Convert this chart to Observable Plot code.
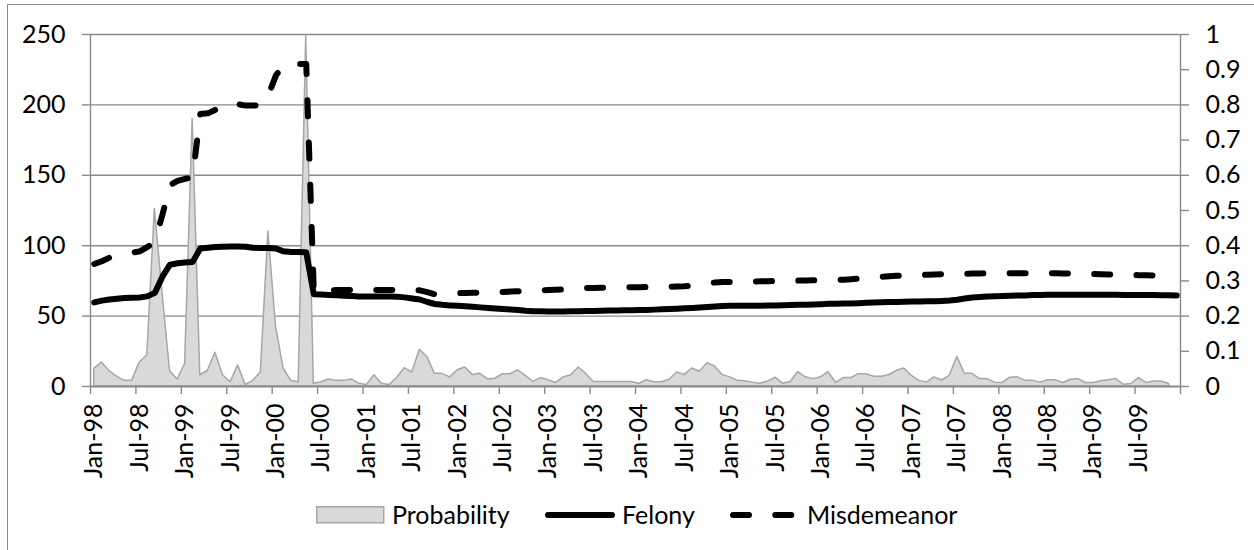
<!DOCTYPE html>
<html>
<head>
<meta charset="utf-8">
<script src="https://cdn.jsdelivr.net/npm/d3@7"></script>
<script src="https://cdn.jsdelivr.net/npm/@observablehq/plot@0.6"></script>
<style>
  html, body { margin: 0; padding: 0; background: #fff; overflow: hidden; }
  #wrap { position: relative; width: 1254px; height: 550px; font-family: Lato, "Open Sans", sans-serif; }
  #frame { position: absolute; left: 7px; top: 4px; width: 3000px; height: 3000px;
           border-top: 1.5px solid #8a8a8a; border-left: 1.5px solid #8a8a8a; box-sizing: border-box; }
  #chart { position: absolute; left: 0; top: 0; }
  .leg { position: absolute; font-size: 25px; line-height: 1; color: #000; white-space: nowrap; }
  .leg svg { position: absolute; }
</style>
</head>
<body>
<div id="wrap">
  <div id="frame"></div>
  <div id="chart"></div>
  <div id="legend"></div>
</div>
<script>
// ---- data (monthly, Jan-98 .. Dec-09) ----
const tickLabels = ["Jan-98","Jul-98","Jan-99","Jul-99","Jan-00","Jul-00","Jan-01","Jul-01",
  "Jan-02","Jul-02","Jan-03","Jul-03","Jan-04","Jul-04","Jan-05","Jul-05","Jan-06","Jul-06",
  "Jan-07","Jul-07","Jan-08","Jul-08","Jan-09","Jul-09"];

const felony = [
  59.7,61,61.8,62.3,62.8,63,63.2,64,66.5,78,86.5,87.5,88,88.5,98,98.6,99,99.3,99.5,99.5,
  99.3,98.5,98.3,98.3,98,96,95.5,95.5,95.3,65.5,65.3,65,64.8,64.5,64.3,64,64,64,64,64,
  63.8,63.3,62.5,61.8,60,58.6,58,57.6,57.3,57,56.7,56.2,55.8,55.4,55,54.7,54.3,53.8,53.5,53.4,
  53.3,53.3,53.3,53.4,53.5,53.6,53.7,53.8,54,54,54.1,54.2,54.3,54.4,54.6,54.8,55,55.3,55.6,55.8,
  56.1,56.4,56.8,57.1,57.3,57.4,57.4,57.4,57.4,57.5,57.6,57.7,57.9,58,58.1,58.3,58.5,58.7,58.8,58.9,
  59,59.2,59.4,59.6,59.8,60,60.1,60.2,60.3,60.4,60.5,60.6,60.8,61.1,61.6,62.5,63.2,63.6,63.9,64.1,
  64.3,64.4,64.6,64.7,64.9,65,65.1,65.2,65.2,65.2,65.2,65.2,65.2,65.2,65.1,65.1,65,65,65,64.9,
  64.9,64.8,64.8,64.7];

const misdemeanor = [
  87,89,91.5,93,94.5,95,96,99,103,122,143,146,147.5,148.5,193.5,194,196.5,199,201.5,200.5,
  199.5,199.5,199.5,207,221,228,229,229,229,67.5,68,68.3,68.5,68.5,68.5,68.5,68.5,68.5,68.5,68.5,
  68.6,68.6,68.6,68.3,67,65.5,65.5,66,66.3,66.4,66.5,66.6,66.8,67,67.2,67.4,67.6,67.8,68,68.3,
  68.5,68.7,69,69.3,69.6,69.9,70,70.1,70.2,70.3,70.4,70.5,70.5,70.6,70.7,70.8,70.9,71,71.2,71.6,
  72.3,73.2,73.9,74.2,74.3,74.4,74.5,74.6,74.7,74.8,74.9,75,75.1,75.2,75.3,75.4,75.5,75.6,75.7,75.9,
  76.2,76.6,77.1,77.5,77.9,78.3,78.6,78.8,79,79.2,79.4,79.6,79.8,79.9,80,80.1,80.2,80.3,80.4,80.4,
  80.4,80.4,80.4,80.4,80.4,80.4,80.4,80.4,80.3,80.2,80.1,80,79.9,79.8,79.6,79.4,79.3,79.2,79.1,79,
  78.9,78.8,78.7,78.6];

const probability = [
  .050,.068,.044,.028,.016,.016,.068,.088,.504,.27,.044,.020,.064,.760,.032,.044,.096,.032,.012,.060,
  .004,.016,.040,.440,.172,.052,.016,.012,.996,.008,.012,.020,.016,.016,.020,.008,.004,.032,.008,.004,
  .024,.052,.040,.104,.084,.036,.036,.026,.046,.054,.033,.036,.020,.022,.035,.035,.046,.030,.013,.024,
  .018,.010,.026,.032,.054,.035,.013,.013,.013,.013,.013,.013,.007,.018,.012,.012,.019,.040,.033,.051,
  .042,.066,.057,.033,.026,.016,.015,.011,.008,.014,.025,.008,.013,.041,.026,.021,.026,.041,.010,.024,
  .024,.035,.035,.028,.028,.032,.044,.051,.030,.016,.011,.026,.017,.030,.084,.037,.036,.021,.021,.011,
  .010,.025,.026,.016,.016,.011,.018,.018,.010,.019,.021,.010,.010,.015,.018,.021,.005,.007,.024,.010,
  .014,.014,.007,null];

const leftTicks = [0, 50, 100, 150, 200, 250];
const rightTicks = [0, .1, .2, .3, .4, .5, .6, .7, .8, .9, 1];
const rightMax = 250; // right axis 1.0 aligns with left 250

// ---- build table ----
const rows = felony.map((f, i) => ({x: i + 0.5, felony: f, misd: misdemeanor[i], prob: probability[i]}));
const probRows = rows.filter(d => d.prob != null);
const boundaries = d3.range(0, felony.length + 1, 6);
const labelPos = tickLabels.map((_, k) => k * 6 + 0.5);

const grey = "#8a8a8a";
const chart = Plot.plot({
  width: 1254, height: 550,
  marginTop: 34, marginBottom: 164, marginLeft: 90, marginRight: 74,
  x: {domain: [0, felony.length], axis: null},
  y: {domain: [0, 250], axis: null},
  style: {fontFamily: "Lato, 'Open Sans', sans-serif", fontSize: "25px", color: "#000", background: "transparent", overflow: "visible"},
  marks: [
    Plot.gridY(leftTicks.filter(d => d > 0), {stroke: grey, strokeOpacity: 1, strokeWidth: 1.4}),
    Plot.areaY(probRows, {x: "x", y: d => d.prob * rightMax, fill: "#d9d9d9", stroke: "#a6a6a6", strokeWidth: 1.5, curve: "linear"}),
    Plot.ruleX([0], {stroke: grey, strokeWidth: 1.4}),
    Plot.ruleX([felony.length], {stroke: grey, strokeWidth: 1.4}),
    Plot.ruleY([0], {stroke: grey, strokeWidth: 2}),
    Plot.axisY({anchor: "left", ticks: leftTicks, tickSize: 8, tickPadding: 17, stroke: grey, strokeWidth: 1.4, fill: "#000", label: null}),
    Plot.axisY({anchor: "right", ticks: rightTicks.map(t => t * rightMax), tickFormat: d => String(+(d / rightMax).toFixed(1)),
                tickSize: 8, tickPadding: 17, stroke: grey, strokeWidth: 1.4, fill: "#000", label: null}),
    Plot.axisX({anchor: "bottom", ticks: boundaries, tickSize: 8, tickFormat: () => "", stroke: grey, strokeWidth: 1.4, label: null}),
    Plot.axisX({anchor: "bottom", ticks: labelPos, tickSize: 0, tickPadding: 17, tickRotate: -90,
                tickFormat: d => tickLabels[Math.round((d - 0.5) / 6)], fill: "#000", label: null}),
    Plot.lineY(rows, {x: "x", y: "felony", stroke: "#000", strokeWidth: 6, strokeLinejoin: "round", strokeLinecap: "round"}),
    Plot.lineY(rows, {x: "x", y: "misd", stroke: "#000", strokeWidth: 6, strokeDasharray: "16,26.3", strokeLinejoin: "round", strokeLinecap: "round"})
  ]
});
document.getElementById("chart").appendChild(chart);

// ---- legend ----
const legendItems = [
  {name: "Probability", type: "area"},
  {name: "Felony", type: "solid"},
  {name: "Misdemeanor", type: "dash"}
];
const legendX = [316, 545, 730];
const legend = document.getElementById("legend");
legendItems.forEach((it, k) => {
  const el = document.createElement("div");
  el.className = "leg";
  el.style.left = legendX[k] + "px";
  el.style.top = "502px";
  let sw;
  if (it.type === "area") {
    sw = `<svg width="70" height="26" style="left:0;top:0"><rect x="0.75" y="4.75" width="67" height="16" fill="#d9d9d9" stroke="#a6a6a6" stroke-width="1.5"/></svg>`;
  } else if (it.type === "solid") {
    sw = `<svg width="72" height="26" style="left:0;top:0"><line x1="3" x2="67" y1="13" y2="13" stroke="#000" stroke-width="6" stroke-linecap="round"/></svg>`;
  } else {
    sw = `<svg width="72" height="26" style="left:0;top:0"><line x1="3" x2="67" y1="13" y2="13" stroke="#000" stroke-width="6" stroke-linecap="round" stroke-dasharray="16,26.3"/></svg>`;
  }
  const textLeft = it.type === "area" ? 76 : 77;
  el.innerHTML = sw + `<span style="position:absolute;left:${textLeft}px;top:0">${it.name}</span>`;
  legend.appendChild(el);
});
</script>
</body>
</html>
